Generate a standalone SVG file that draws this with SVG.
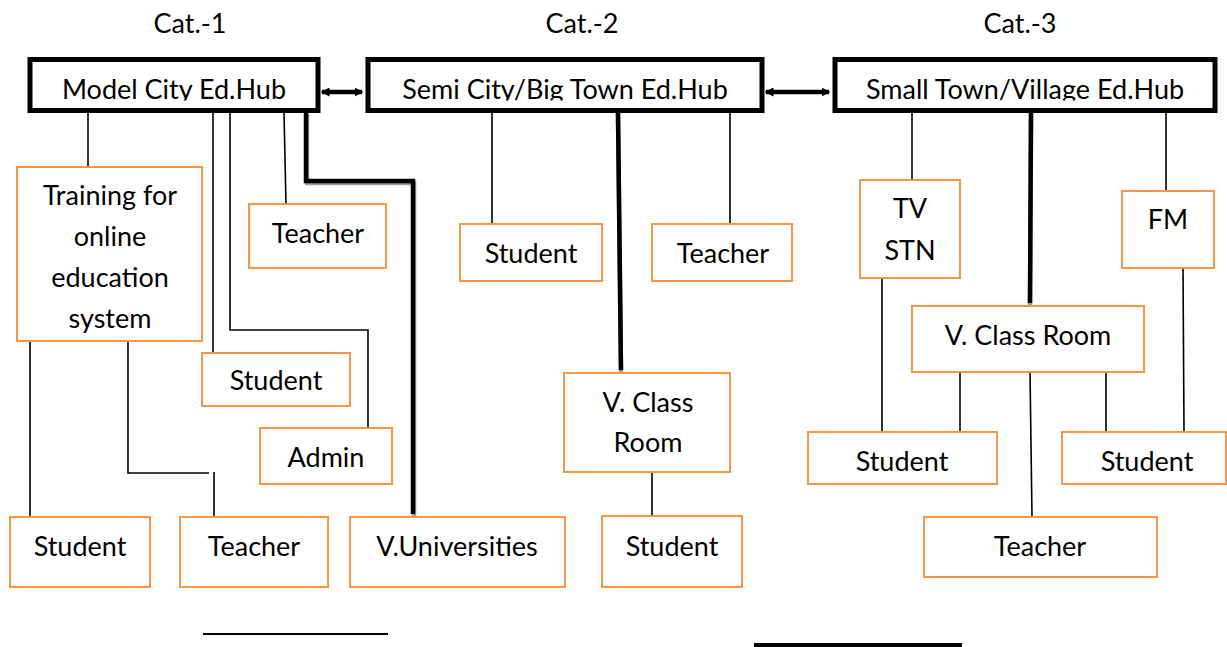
<svg xmlns="http://www.w3.org/2000/svg" width="1227" height="647" viewBox="0 0 1227 647">
<style>
text{font-family:Lato,"Liberation Sans",sans-serif;font-size:27px;fill:#000;text-anchor:middle}
.hub{fill:#fff;stroke:#000;stroke-width:5}
.box{fill:#fff;stroke:#F79646;stroke-width:2}
.thin{fill:none;stroke:#000;stroke-width:1.6}
.thick{fill:none;stroke:#000;stroke-width:4.5}
.shadow{fill:none;stroke:#9a9a9a;stroke-width:4.5}
</style>
<defs>
<marker id="ah" viewBox="0 0 6 6" refX="5" refY="3" markerWidth="2" markerHeight="2" orient="auto-start-reverse">
<path d="M0,0 L6,3 L0,6 z" fill="#000"/>
</marker>
<clipPath id="clipHub"><rect x="0" y="0" width="1227" height="100.5"/></clipPath>
</defs>
<rect width="1227" height="647" fill="#fff"/>
<g id="labels">
<text x="190" y="33">Cat.-1</text>
<text x="582" y="33">Cat.-2</text>
<text x="1020" y="33">Cat.-3</text>
</g>
<g id="connectors">
<line class="thick" x1="322" y1="92" x2="362" y2="92" marker-start="url(#ah)" marker-end="url(#ah)"/>
<line class="thick" x1="766" y1="92" x2="829" y2="92" marker-start="url(#ah)" marker-end="url(#ah)"/>
<line class="thin" x1="88" y1="113" x2="88" y2="167"/>
<line class="thin" x1="213" y1="113" x2="213" y2="353"/>
<path class="thin" d="M230,113 V330 H368 V428"/>
<line class="thin" x1="284" y1="113" x2="286" y2="204"/>
<line class="thin" x1="30" y1="341" x2="30" y2="517"/>
<path class="thin" d="M128,341 V473 H209"/>
<line class="thin" x1="214" y1="472" x2="214" y2="517"/>
<line class="thin" x1="492" y1="113" x2="492" y2="224"/>
<line class="thin" x1="730" y1="113" x2="730" y2="224"/>
<line class="thin" x1="652" y1="472" x2="652" y2="516"/>
<line class="thin" x1="912" y1="113" x2="912" y2="180"/>
<line class="thin" x1="1166" y1="113" x2="1166" y2="191"/>
<line class="thin" x1="882" y1="278" x2="882" y2="432"/>
<line class="thin" x1="1183" y1="268" x2="1184" y2="432"/>
<line class="thin" x1="960" y1="372" x2="960" y2="432"/>
<line class="thin" x1="1106" y1="372" x2="1106" y2="432"/>
<line class="thin" x1="1030" y1="372" x2="1032" y2="517"/>
<path class="shadow" d="M307,114 V183 H414 V518"/>
<path class="thick" d="M306,113 V181 H413 V514"/>
<line class="shadow" x1="618" y1="113" x2="621" y2="374"/>
<line class="thick" x1="618" y1="113" x2="621" y2="370"/>
<line class="shadow" x1="1031" y1="113" x2="1030" y2="308"/>
<line class="thick" x1="1031" y1="113" x2="1030" y2="303"/>
<line x1="203" y1="634" x2="388" y2="634" stroke="#000" stroke-width="2"/>
<line x1="754" y1="645" x2="962" y2="645" stroke="#000" stroke-width="4"/>
</g>
<g id="hub1"><rect class="hub" x="30" y="59.5" width="288" height="51"/><text x="174" y="99" clip-path="url(#clipHub)">Model City Ed.Hub</text></g>
<g id="hub2"><rect class="hub" x="368" y="59.5" width="394" height="51"/><text x="565" y="99" clip-path="url(#clipHub)">Semi City/Big Town Ed.Hub</text></g>
<g id="hub3"><rect class="hub" x="835" y="59.5" width="380" height="51"/><text x="1025" y="99" clip-path="url(#clipHub)">Small Town/Village Ed.Hub</text></g>
<g id="training"><rect class="box" x="17" y="167" width="185" height="174"/><text x="110" y="205">Training for</text><text x="110" y="246">online</text><text x="110" y="287">education</text><text x="110" y="328">system</text></g>
<g id="teacher1"><rect class="box" x="249" y="204" width="137" height="64"/><text x="318" y="243">Teacher</text></g>
<g id="student1"><rect class="box" x="202" y="353" width="148" height="53"/><text x="276" y="390">Student</text></g>
<g id="admin"><rect class="box" x="260" y="428" width="132" height="56"/><text x="326" y="467">Admin</text></g>
<g id="student_b1"><rect class="box" x="10" y="517" width="140" height="70"/><text x="80" y="556">Student</text></g>
<g id="teacher_b1"><rect class="box" x="180" y="517" width="148" height="70"/><text x="254" y="556">Teacher</text></g>
<g id="vuniv"><rect class="box" x="350" y="517" width="215" height="70"/><text x="457" y="556">V.Universities</text></g>
<g id="student2"><rect class="box" x="460" y="224" width="142" height="57"/><text x="531" y="263">Student</text></g>
<g id="teacher2"><rect class="box" x="652" y="224" width="140" height="57"/><text x="723" y="263">Teacher</text></g>
<g id="vcr2"><rect class="box" x="564" y="373" width="166" height="99"/><text x="648" y="412">V. Class</text><text x="648" y="452">Room</text></g>
<g id="student3"><rect class="box" x="602" y="516" width="140" height="71"/><text x="672" y="556">Student</text></g>
<g id="tvstn"><rect class="box" x="860" y="180" width="100" height="98"/><text x="910" y="218">TV</text><text x="910" y="260">STN</text></g>
<g id="fm"><rect class="box" x="1122" y="191" width="92" height="77"/><text x="1168" y="229">FM</text></g>
<g id="vcr3"><rect class="box" x="912" y="306" width="232" height="66"/><text x="1028" y="345">V. Class Room</text></g>
<g id="student4"><rect class="box" x="808" y="432" width="189" height="52"/><text x="902" y="471">Student</text></g>
<g id="student5"><rect class="box" x="1062" y="432" width="164" height="52"/><text x="1147" y="471">Student</text></g>
<g id="teacher3"><rect class="box" x="924" y="517" width="233" height="60"/><text x="1040" y="556">Teacher</text></g>
</svg>
